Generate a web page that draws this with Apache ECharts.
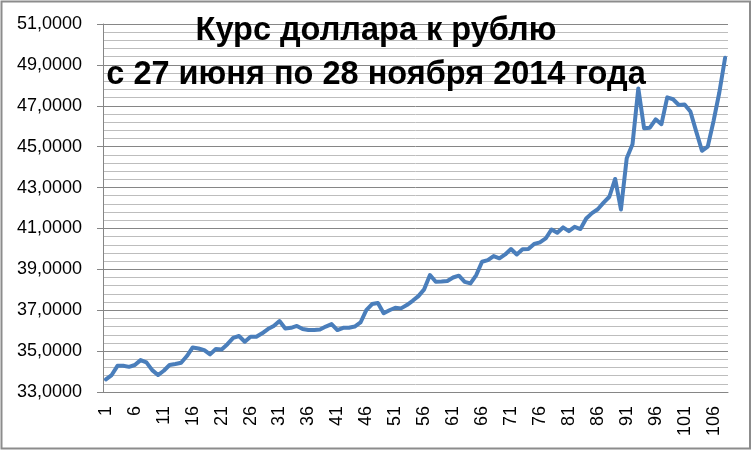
<!DOCTYPE html>
<html>
<head>
    <meta charset="utf-8">
    <title>Курс доллара к рублю</title>
    <script src="https://cdn.jsdelivr.net/npm/echarts@6/dist/echarts.min.js"></script>
    <style>
        html, body { margin: 0; padding: 0; background: #fff; }
    </style>
</head>
<body>
    <div id="main" style="width: 752px;height:450px;"></div>
<script type="text/javascript">
// курс по дням, с 27 июня по 28 ноября 2014 (читано с графика)
var rate = [
    33.62, 33.83, 34.28, 34.28, 34.23, 34.32, 34.56, 34.45, 34.07, 33.83,
    34.04, 34.32, 34.37, 34.43, 34.76, 35.18, 35.13, 35.05, 34.84, 35.10,
    35.08, 35.34, 35.65, 35.74, 35.46, 35.70, 35.70, 35.87, 36.08, 36.23,
    36.47, 36.11, 36.14, 36.23, 36.08, 36.03, 36.03, 36.06, 36.20, 36.32,
    36.03, 36.14, 36.14, 36.20, 36.40, 37.00, 37.30, 37.35, 36.85, 37.00,
    37.12, 37.09, 37.25, 37.46, 37.69, 38.02, 38.72, 38.39, 38.40, 38.43,
    38.60, 38.69, 38.39, 38.31, 38.72, 39.37, 39.45, 39.65, 39.54, 39.73,
    39.99, 39.73, 39.98, 39.99, 40.24, 40.32, 40.51, 40.95, 40.79, 41.05,
    40.87, 41.08, 40.97, 41.49, 41.75, 41.94, 42.26, 42.55, 43.42, 41.93,
    44.43, 45.12, 47.85, 45.90, 45.93, 46.34, 46.10, 47.41, 47.32, 47.04,
    47.06, 46.72, 45.75, 44.80, 45.00, 46.25, 47.65, 49.35
];
// номера дней по оси X: 1, 2, ... (подписан каждый пятый)
var days = rate.map(function (v, i) { return String(i + 1); });

var titleLines = ['Курс доллара к рублю', 'с 27 июня по 28 ноября 2014 года'];

var myChart = echarts.init(document.getElementById('main'));

var gray = '#868686';

option = {
    animation: false,
    backgroundColor: '#fff',
    title: {
        text: titleLines.join('\n'),
        left: 'center',
        top: 9,
        padding: 0,
        textStyle: {
            fontFamily: 'Liberation Sans',
            fontWeight: 'bold',
            fontSize: 32.5,
            lineHeight: 44,
            color: '#000'
        }
    },
    grid: {
        left: 103,
        right: 24,
        top: 24,
        bottom: 58
    },
    xAxis: {
        type: 'category',
        boundaryGap: true,
        data: days,
        axisLine: { lineStyle: { color: gray, width: 1 } },
        axisTick: { interval: 0, length: 6, lineStyle: { color: gray } },
        axisLabel: {
            interval: 4,
            rotate: 90,
            margin: 14,
            fontFamily: 'Liberation Sans',
            fontSize: 18,
            color: '#000'
        },
        splitLine: { show: false }
    },
    yAxis: {
        type: 'value',
        min: 33,
        max: 51,
        interval: 2,
        axisLine: { show: true, lineStyle: { color: gray, width: 1 } },
        axisTick: { show: true, length: 6, lineStyle: { color: gray } },
        axisLabel: {
            margin: 21,
            fontFamily: 'Liberation Sans',
            fontSize: 18,
            color: '#000',
            formatter: function (v) { return v.toFixed(4).replace('.', ','); }
        },
        splitLine: { lineStyle: { color: gray, width: 1 } },
        minorTick: { show: false, splitNumber: 5 },
        minorSplitLine: { show: true, lineStyle: { color: '#bdbdbd', width: 1 } }
    },
    graphic: [{
        type: 'rect',
        shape: { x: 1.5, y: 1.5, width: 748.5, height: 447 },
        style: { fill: null, stroke: '#8c8c8c', lineWidth: 2 },
        silent: true
    }],
    series: [{
        name: 'Курс',
        type: 'line',
        symbol: 'none',
        data: rate,
        lineStyle: { color: '#4a7ebb', width: 4, join: 'round', cap: 'round' },
        itemStyle: { color: '#4a7ebb' }
    }]
};

myChart.setOption(option);
</script>
</body>
</html>
